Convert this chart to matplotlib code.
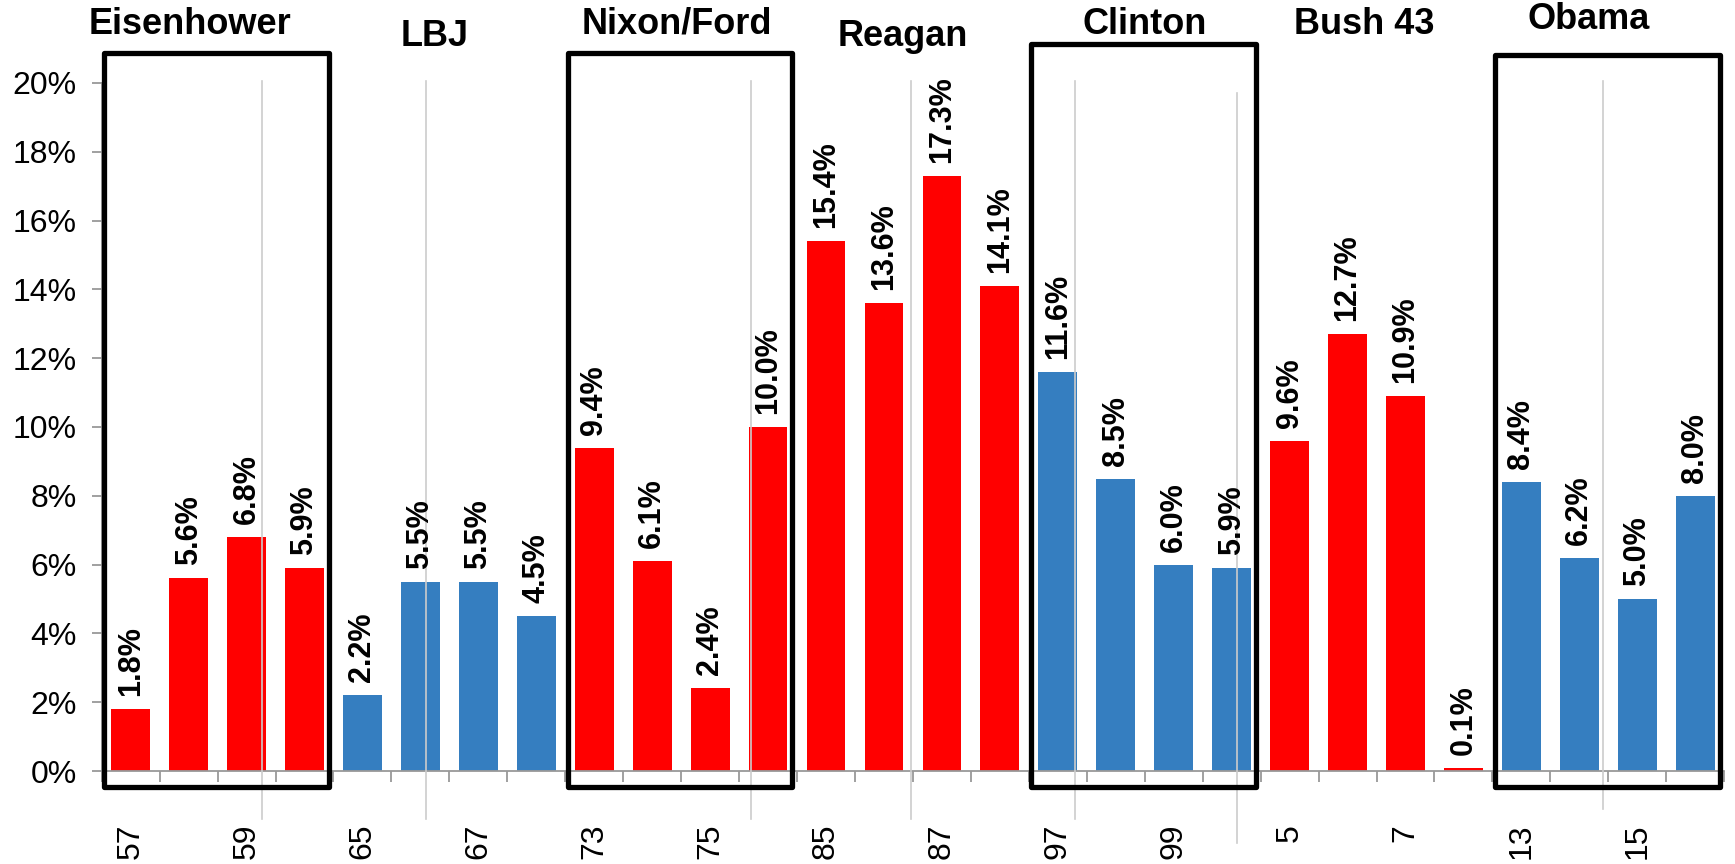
import matplotlib
matplotlib.use('Agg')
import matplotlib.pyplot as plt
from matplotlib.patches import Rectangle
import numpy as np

plt.rcParams['font.family'] = ['Liberation Sans', 'DejaVu Sans']

presidents = ['Eisenhower', 'LBJ', 'Nixon/Ford', 'Reagan', 'Clinton', 'Bush 43', 'Obama']
party = ['R', 'D', 'R', 'R', 'D', 'R', 'D']
eisenhower = [1.8, 5.6, 6.8, 5.9]
lbj = [2.2, 5.5, 5.5, 4.5]
nixon_ford = [9.4, 6.1, 2.4, 10.0]
reagan = [15.4, 13.6, 17.3, 14.1]
clinton = [11.6, 8.5, 6.0, 5.9]
bush43 = [9.6, 12.7, 10.9, 0.1]
obama = [8.4, 6.2, 5.0, 8.0]
year_labels = ['57', '59', '65', '67', '73', '75', '85', '87', '97', '99', '5', '7', '13', '15']
boxed = ['Eisenhower', 'Nixon/Ford', 'Clinton', 'Obama']

groups = [eisenhower, lbj, nixon_ford, reagan, clinton, bush43, obama]
colors_map = {'R': '#FF0000', 'D': '#357EC0'}

vals = [v for g in groups for v in g]
cols = [colors_map[p] for p, g in zip(party, groups) for _ in g]
x = np.arange(len(vals))

fig = plt.figure(figsize=(17.35, 8.64), dpi=100)
ax = fig.add_axes([0.0586, 0.1076, 0.9352, 0.7964])

ax.bar(x, vals, width=0.67, color=cols, zorder=2)
for xi, v in zip(x, vals):
    ax.text(xi, v + 0.38, f'{v:.1f}%', rotation=90, ha='center', va='bottom',
            fontsize=22, fontweight='bold', zorder=4)

ax.set_xlim(-0.5, len(vals) - 0.5)
ax.set_ylim(0, 20)
ax.set_yticks(np.arange(0, 21, 2))
ax.set_yticklabels([f'{t}%' for t in range(0, 21, 2)], fontsize=23)
ax.set_xticks(x[::2])
ax.set_xticklabels(year_labels, rotation=90, fontsize=23, va='top')
ax.set_xticks(np.arange(-0.5, len(vals), 1), minor=True)
ax.tick_params(axis='x', which='major', length=0, pad=38)
ax.tick_params(axis='x', which='minor', length=8, color='#999999', width=1.3)
ax.tick_params(axis='y', length=7, color='#999999', width=1.3, pad=11)
for s in ['top', 'right']:
    ax.spines[s].set_visible(False)
for s in ['left', 'bottom']:
    ax.spines[s].set_color('#999999')
    ax.spines[s].set_linewidth(1.3)

# thin gray separator lines
sep_x = [2.27, 5.1, 10.7, 13.47, 16.3, 19.1, 25.4]
sep_top = [20.05, 20.05, 20.05, 20.05, 20.05, 19.7, 20.05]
sep_bot = [-1.4, -1.4, -1.4, -1.4, -1.4, -2.1, -1.1]
for sx, st, sb in zip(sep_x, sep_top, sep_bot):
    ax.plot([sx, sx], [sb, st], color='#CCCCCC', lw=1.2, clip_on=False, zorder=3)

# group titles
title_x = [1.03, 5.25, 9.43, 13.33, 17.5, 21.28, 25.16]
title_y = [21.7, 21.35, 21.7, 21.35, 21.7, 21.7, 21.83]
for name, tx, ty in zip(presidents, title_x, title_y):
    ax.text(tx, ty, name, ha='center', va='center', fontsize=26, fontweight='bold',
            clip_on=False)

# boxes
box_top = {'Eisenhower': 20.87, 'Nixon/Ford': 20.87, 'Clinton': 21.13, 'Obama': 20.8}
for gi, name in enumerate(presidents):
    if name in boxed:
        x0 = gi * 4 - 0.46
        x1 = gi * 4 + 3 + 0.42
        y0 = -0.47
        r = Rectangle((x0, y0), x1 - x0, box_top[name] - y0, fill=False,
                      edgecolor='black', lw=3.8, clip_on=False, zorder=5,
                      joinstyle='round')
        ax.add_patch(r)

fig.savefig('out.png', dpi=100)
